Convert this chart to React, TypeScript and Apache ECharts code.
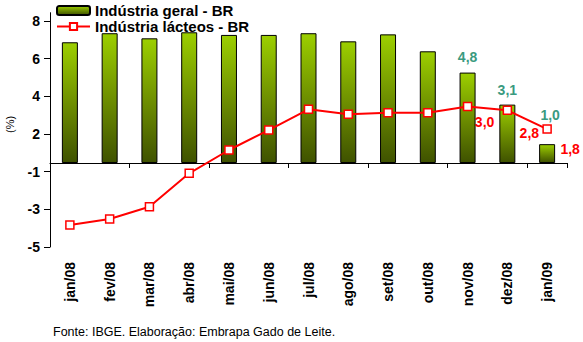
import React, { useEffect, useRef } from "react";
import * as echarts from "echarts";

const categories = ["jan/08", "fev/08", "mar/08", "abr/08", "mai/08", "jun/08", "jul/08", "ago/08", "set/08", "out/08", "nov/08", "dez/08", "jan/09"];
const industriaGeral = [6.41, 6.89, 6.62, 6.94, 6.8, 6.8, 6.89, 6.46, 6.83, 5.93, 4.8, 3.1, 1.0];
const industriaLacteos = [-3.29, -2.97, -2.32, -0.55, 0.69, 1.75, 2.85, 2.59, 2.67, 2.67, 3.0, 2.8, 1.8];
const tickValues = [8, 6, 4, 2, 0, -2, -4];
const tickLabels = ["8", "6", "4", "2", "-1", "-3", "-5"];
const geralLabelIdx = [10, 11, 12];
const lacteosLabelIdx = [10, 11, 12];

const FONT = "Liberation Sans, Arial, sans-serif";

export default function App() {
  const ref = useRef<HTMLDivElement>(null);
  useEffect(() => {
    if (!ref.current) return;
    const chart = echarts.init(ref.current, undefined, { renderer: "svg" });
    const barGrad = new echarts.graphic.LinearGradient(0, 0, 0, 1, [
      { offset: 0, color: "#9ccf00" },
      { offset: 0.5, color: "#6e8f00" },
      { offset: 1, color: "#3f5200" },
    ]);
    const barOffsets: Record<number, number[]> = { 10: [0, -4], 11: [0, -3], 12: [3, -17] };
    const lineOffsets: Record<number, number[]> = { 10: [17, 16], 11: [22, 23], 12: [23, 20] };
    chart.setOption({
      animation: false,
      textStyle: { fontFamily: FONT },
      legend: {
        orient: "vertical",
        left: 56,
        top: 3,
        padding: 0,
        itemWidth: 33,
        itemHeight: 9,
        itemGap: 1,
        textStyle: { fontFamily: FONT, fontSize: 15, lineHeight: 14, fontWeight: "bold", color: "#000" },
        data: ["Indústria geral - BR", "Indústria lácteos - BR"],
      },
      grid: { left: 50, right: 16, top: 12.7, bottom: 95, containLabel: false },
      xAxis: [
        {
          type: "category",
          data: categories,
          position: "bottom",
          axisLine: { show: true, onZero: true, onZeroAxisIndex: 1, lineStyle: { color: "#000", width: 1 } },
          axisTick: { show: true, length: 5, lineStyle: { color: "#000" } },
          axisLabel: { show: false },
          splitLine: { show: false },
        },
        {
          type: "category",
          data: categories,
          position: "bottom",
          axisLine: { show: false, onZero: false },
          axisTick: { show: false },
          axisLabel: {
            show: true,
            rotate: 90,
            margin: 15,
            fontFamily: FONT,
            fontSize: 14,
            fontWeight: "bold",
            color: "#000",
          },
          splitLine: { show: false },
        },
      ],
      yAxis: [
        {
          type: "value",
          min: -4,
          max: 8.44,
          interval: 2,
          axisLine: { show: true, lineStyle: { color: "#000", width: 1 } },
          axisTick: { show: true, length: 6, lineStyle: { color: "#000" } },
          splitLine: { show: false },
          axisLabel: {
            margin: 10,
            fontFamily: FONT,
            fontSize: 14,
            fontWeight: "bold",
            color: "#000",
            formatter: (v: number) => {
              const i = tickValues.indexOf(Math.round(v));
              return i >= 0 ? tickLabels[i] : "";
            },
          },
        },
        {
          type: "value",
          min: -4.46,
          max: 7.98,
          show: false,
          splitLine: { show: false },
        },
      ],
      series: [
        {
          name: "Indústria geral - BR",
          type: "bar",
          xAxisIndex: 0,
          yAxisIndex: 1,
          barWidth: 16,
          itemStyle: { color: barGrad, borderColor: "#000", borderWidth: 1 },
          data: industriaGeral.map((v, i) => ({
            value: v,
            label: geralLabelIdx.includes(i)
              ? {
                  show: true,
                  position: "top",
                  offset: barOffsets[i],
                  formatter: v.toFixed(1).replace(".", ","),
                  fontFamily: FONT,
                  fontSize: 14,
                  fontWeight: "bold",
                  color: "#3a9a80",
                }
              : { show: false },
          })),
        },
        {
          name: "Indústria lácteos - BR",
          type: "line",
          xAxisIndex: 0,
          yAxisIndex: 1,
          symbol: "rect",
          symbolSize: 8,
          lineStyle: { color: "#ff0000", width: 2 },
          itemStyle: { color: "#ffffff", borderColor: "#ff0000", borderWidth: 1.5 },
          data: industriaLacteos.map((v, i) => ({
            value: v,
            label: lacteosLabelIdx.includes(i)
              ? {
                  show: true,
                  position: "inside",
                  offset: lineOffsets[i],
                  formatter: v.toFixed(1).replace(".", ","),
                  fontFamily: FONT,
                  fontSize: 14,
                  fontWeight: "bold",
                  color: "#ff0000",
                }
              : { show: false },
          })),
          z: 5,
        },
      ],
      graphic: [
        {
          type: "text",
          x: 4,
          y: 133,
          rotation: Math.PI / 2,
          style: { text: "(%)", fontFamily: FONT, fontSize: 11, fill: "#000" },
        },
        {
          type: "text",
          x: 53,
          y: 325,
          style: {
            text: "Fonte: IBGE. Elaboração: Embrapa Gado de Leite.",
            fontFamily: FONT,
            fontSize: 12.5,
            fill: "#000",
          },
        },
      ],
    });
    return () => chart.dispose();
  }, []);
  return <div ref={ref} style={{ width: 583, height: 342, position: "absolute", left: 0, top: 0 }} />;
}
